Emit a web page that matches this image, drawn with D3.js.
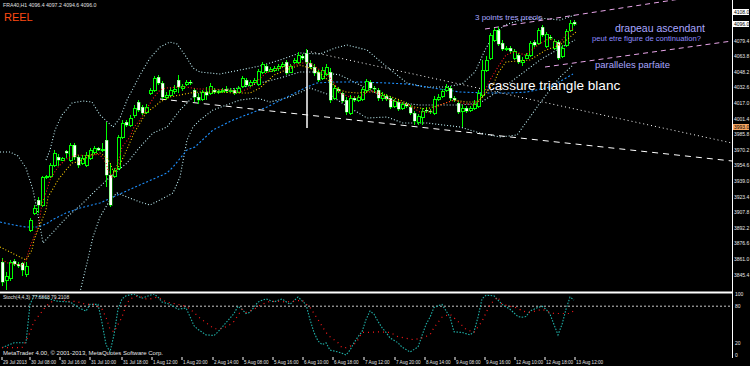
<!DOCTYPE html>
<html><head><meta charset="utf-8">
<script src="https://cdn.jsdelivr.net/npm/d3@7"></script>
<style>html,body{margin:0;padding:0;background:#000;overflow:hidden}svg{display:block}</style>
</head><body><svg id="c" width="750" height="366"></svg>
<script>
// ---- candles (H1 bars, index 0..143) ----
const opens=[3858,3840,3842,3859,3856,3857,3846,3890,3907,3920,3915,3943,3944,3955,3963,3960,3969,3960,3975,3963,3957,3955,3962,3968,3972,3970,3980,3945,3944,3952,3983,3998,3995,4005,4018,4013,4008,4027,4030,4043,4037,4023,4025,4029,4040,4032,4036,4038,4030,4023,4021,4028,4027,4030,4028,4029,4031,4029,4030,4028,4034,4040,4035,4038,4036,4048,4054,4049,4050,4052,4054,4058,4048,4058,4058,4064,4067,4057,4053,4048,4042,4046,4048,4022,4031,4027,4020,4007,4022,4020,4021,4030,4038,4032,4030,4022,4024,4022,4014,4018,4012,4016,4013,4007,3998,4003,4010,4009,4007,4021,4024,4030,4032,4022,4017,4009,4012,4010,4012,4014,4025,4050,4062,4080,4090,4077,4071,4072,4062,4065,4058,4062,4065,4078,4077,4093,4074,4083,4072,4078,4064,4075,4090,4098];
const highs=[3862,3848,3860,3861,3858,3858,3858,3902,3915,3923,3944,3945,3957,3970,3966,3963,3970,3977,3977,3965,3965,3968,3972,3974,3973,3977,3998,3957,3952,3985,4000,4000,4005,4015,4020,4015,4016,4032,4044,4045,4039,4028,4033,4035,4045,4036,4040,4040,4032,4026,4030,4033,4037,4032,4031,4032,4034,4032,4032,4034,4044,4042,4040,4042,4051,4058,4056,4053,4054,4056,4058,4060,4056,4062,4068,4066,4071,4060,4056,4050,4053,4056,4052,4035,4033,4028,4023,4025,4024,4025,4033,4041,4040,4034,4032,4028,4026,4024,4021,4020,4018,4018,4015,4009,4006,4012,4013,4011,4024,4026,4031,4036,4034,4024,4019,4015,4014,4014,4020,4030,4060,4064,4087,4092,4093,4080,4074,4074,4071,4067,4063,4067,4079,4080,4092,4095,4088,4085,4081,4080,4075,4091,4100,4100];
const lows=[3834,3830,3839,3854,3852,3844,3843,3888,3905,3907,3913,3941,3942,3953,3954,3959,3962,3958,3960,3952,3955,3953,3960,3966,3969,3968,3933,3913,3942,3950,3981,3993,3993,4002,4008,4005,4006,4025,4028,4035,4021,4020,4023,4026,4027,4029,4034,4035,4018,4016,4019,4020,4025,4026,4026,4027,4027,4028,4025,4027,4032,4033,4033,4036,4034,4046,4047,4048,4048,4049,4052,4045,4047,4056,4056,4060,4056,4051,4044,4038,4040,4044,4017,4020,4027,4017,4005,4005,4018,4018,4019,4027,4030,4028,4019,4019,4019,4011,4012,4009,4010,4012,4005,3995,3995,3995,4007,4006,4005,4019,4022,4028,4019,4018,4006,3993,4007,4008,4010,4012,4022,4048,4060,4078,4074,4069,4069,4067,4060,4056,4054,4061,4063,4073,4075,4083,4072,4080,4070,4060,4062,4073,4088,4094];
const closes=[3838,3844,3858,3856,3854,3850,3854,3900,3912,3915,3943,3944,3955,3967,3960,3962,3967,3975,3963,3955,3962,3965,3970,3972,3970,3971,3945,3915,3950,3983,3997,3995,4002,4012,4010,4007,4013,4030,4042,4037,4023,4025,4030,4031,4033,4034,4038,4037,4023,4020,4028,4025,4034,4028,4029,4030,4029,4030,4027,4032,4042,4035,4038,4040,4049,4056,4049,4051,4052,4054,4056,4047,4054,4060,4065,4062,4058,4053,4047,4040,4050,4053,4020,4032,4029,4019,4008,4022,4020,4023,4031,4039,4032,4031,4022,4025,4021,4013,4019,4011,4016,4014,4007,3999,4004,4009,4009,4008,4021,4023,4029,4033,4022,4020,4008,4012,4009,4012,4016,4027,4050,4060,4085,4090,4076,4071,4072,4069,4069,4058,4060,4065,4077,4075,4090,4085,4086,4082,4079,4062,4072,4089,4097,4096];

// ---- indicator lines: [bar index, price] ----
const maFast=[[0,3860],[1.5,3857],[5,3855],[6,3860],[7,3873],[8,3883],[9,3893],[9.5,3903],[10,3917],[11,3927],[12,3940],[13,3947],[14,3953],[15,3957],[16.5,3962],[19,3965],[22,3964],[24,3966],[25,3963],[26,3957],[26.5,3950],[27.5,3943],[28,3948],[29,3957],[30,3973],[32,3983],[33,3993],[34.5,4000],[36,4010],[38,4023],[39.5,4030],[41,4032],[44,4033],[46,4033],[49,4031],[52,4031],[57,4030],[59.5,4028],[62,4032],[66,4047],[69.5,4052],[73,4055],[74.5,4057],[77,4057],[79.5,4050],[81,4047],[83,4037],[84.5,4027],[87,4023],[89.5,4023],[92,4030],[94.5,4025],[97,4020],[99.5,4018],[102,4014],[104.5,4008],[107,4008],[109.5,4015],[113,4020],[115,4017],[118,4015],[120,4023],[122,4040],[124,4053],[126,4065],[128,4068],[131,4065],[134,4075],[137,4082],[139,4075],[141,4085],[143,4092]];
const maMid=[[-0.5,3873],[2,3868],[4.5,3863],[6,3860],[7.5,3870],[8,3880],[9,3890],[10,3900],[11,3910],[11.5,3923],[13,3933],[14,3940],[16,3950],[17.5,3957],[19,3958],[21,3962],[22,3965],[24.5,3967],[26,3963],[27,3957],[28,3947],[29,3952],[30,3960],[31.5,3973],[33,3987],[34.5,3997],[36,4007],[38,4013],[39.5,4018],[42,4023],[44.5,4025],[47,4027],[49.5,4028],[54.5,4028],[58,4027],[62,4027],[64.5,4032],[68,4045],[71,4050],[74.5,4055],[77,4052],[79.5,4047],[82,4038],[84.5,4030],[86,4028],[89,4027],[91,4028],[94,4028],[96,4025],[99.5,4020],[103,4013],[106,4011],[109.5,4015],[113,4020],[116,4018],[119,4018],[121,4027],[123,4037],[124,4047],[126,4058],[132,4060],[136,4070],[139.5,4075],[142,4083],[143.5,4088]];
const maSlow=[[-0.5,3898],[3,3895],[6,3893],[9,3893],[11,3896],[13,3901],[16,3907],[19.5,3912],[24.5,3917],[32.75,3932],[41.25,3947],[42.75,3953],[46.25,3970],[48.25,3973],[52.75,3990],[57.75,4000],[66.25,4013],[71.25,4023],[76.25,4033],[78.75,4037],[82.75,4038],[89.5,4038],[96.25,4037],[101.25,4036],[107.75,4032],[114.5,4028],[121.25,4027],[127,4027],[131.25,4028],[137,4033],[142.75,4046]];
const bandUpper=[[11,3960],[12,3970],[13.25,3990],[15,4005],[17.5,4017],[20.25,4019],[22.5,4018],[24.5,4005],[27.75,3993],[29.5,4002],[31.25,4020],[34.5,4045],[37,4062],[39.5,4073],[42,4078],[43.75,4076],[45.75,4065],[47.75,4052],[49.5,4048],[54.5,4046],[59.5,4050],[64.5,4054],[69.5,4060],[74.5,4067],[79.5,4066],[83.25,4072],[86.25,4075],[91.25,4070],[96.25,4053],[101.25,4037],[105.75,4033],[110.75,4033],[115,4036],[118.25,4048],[120.75,4070],[123.25,4087],[125.75,4095],[129.5,4100],[134.5,4102],[139.5,4100],[143.25,4105]];
const bandMiddle=[[-0.5,3968],[2,3968],[4,3964],[6,3952],[7.75,3930],[9,3905],[10.25,3877],[16.25,3903],[20.25,3917],[22.75,3927],[27,3943],[31.25,3957],[34.5,3973],[37.75,3987],[41.25,3993],[44.5,4010],[47.75,4023],[49.5,4027],[54.5,4030],[59.5,4032],[64.5,4037],[69.5,4042],[74.5,4048],[79.5,4048],[84.5,4045],[89.5,4035],[94.5,4025],[99.5,4017],[104.5,4015],[109.5,4015],[114.5,4015],[119.5,4017],[124.5,4030],[129.5,4045],[134.5,4060],[139.5,4072],[143.25,4080]];
const bandLower=[[18.25,3810],[19.5,3828],[21.25,3857],[22.75,3883],[24.5,3903],[27,3920],[28.75,3927],[31.25,3923],[34.5,3918],[37,3915],[39.5,3920],[42.75,3927],[44.5,3943],[46.25,3980],[47.75,3993],[49.5,4000],[52.75,4010],[59.5,4020],[63.75,4022],[67,4018],[72,4023],[77,4032],[82,4025],[85.75,4015],[91.25,4002],[96.25,4003],[100.25,3997],[106.25,3997],[114.5,3993],[119.5,3987],[124.5,3983],[128.75,3985],[132,4003],[134.5,4017],[137,4030],[139.5,4043],[142.75,4055]];

// ---- stochastic (4,4,3) ----
const stochK=[[0,12],[3,20],[6,20],[7,83],[8,97],[10,95],[14,88],[17,87],[19,78],[21,72],[22,83],[24,83],[25,53],[26,17],[27,5],[28,33],[29,75],[30,92],[31,97],[33,100],[35,93],[37,98],[38,100],[39,95],[40,87],[42,83],[44,75],[46,77],[47,63],[48,48],[49,42],[51,33],[53,32],[54,38],[56,53],[58,68],[59,80],[60,75],[61,68],[62,70],[64,87],[66,92],[68,87],[70,92],[72,83],[74,95],[76,83],[77,58],[78,37],[79,23],[80,17],[81,20],[82,8],[84,5],[85,3],[86,0],[87,8],[88,20],[89,30],[90,38],[91,58],[92,72],[93,67],[94,55],[95,45],[96,37],[97,28],[99,20],[100,13],[102,5],[104,13],[105,32],[106,50],[107,62],[108,78],[110,83],[112,62],[113,38],[115,37],[117,33],[118,38],[119,62],[120,92],[121,98],[123,97],[125,83],[127,75],[129,63],[130,62],[131,63],[132,72],[133,75],[134,78],[135,80],[136,75],[137,67],[138,50],[139,33],[140,50],[141,75],[142,95],[143,90]];
const stochD=[[0,12],[5,12],[6,23],[7,37],[8,55],[9,63],[11,80],[14,95],[16,88],[18,88],[19,87],[21,83],[23,83],[25,75],[26,62],[27,42],[28,38],[29,50],[30,62],[31,82],[32,92],[34,97],[36,92],[37,92],[39,95],[41,87],[44,83],[46,80],[48,70],[49,63],[50,58],[51,53],[53,43],[55,43],[57,50],[58,55],[60,75],[61,70],[63,75],[65,83],[67,88],[69,88],[71,87],[73,88],[75,90],[77,78],[79,58],[81,37],[82,30],[84,20],[85,12],[86,12],[88,17],[89,25],[90,37],[92,37],[94,38],[97,37],[99,30],[103,25],[105,28],[107,33],[108,45],[110,62],[112,67],[114,55],[116,42],[118,37],[120,55],[122,83],[124,95],[125,83],[129,77],[130,72],[132,70],[134,73],[135,75],[137,70],[138,68],[142,68],[143,73]];

// ---- drawings: [bar index, price] ----
const triangleUpper=[[76.25,4069],[182.5,3977]];
const triangleLower=[[39.5,4021],[182.5,3959]];
const triangleEdge=[[76.25,4070],[76.25,3992]];
const flagUpper=[[120.75,4091],[182.5,4129]];
const flagLower=[[135.75,4053],[182.5,4079]];

// ---- axis labels ----
const priceTicks=[4079.4,4063.8,4048.2,4032.6,4017.0,4001.4,3985.8,3970.2,3954.6,3939.0,3923.4,3907.8,3892.2,3876.6,3861.0,3845.4];
const stochTicks=[100,80,20,0];
const timeIdx=[0,7,14.5,22,30,37.5,45,52.75,60.25,67.75,75.25,82.75,90.5,98.25,105.75,113.25,120.75,128.25,135.75,143.25];
const timeLabels=["29 Jul 2013","30 Jul 08:00","30 Jul 16:00","31 Jul 10:00","31 Jul 18:00","1 Aug 12:00","1 Aug 20:00","2 Aug 14:00","5 Aug 08:00","5 Aug 16:00","6 Aug 10:00","6 Aug 18:00","7 Aug 12:00","7 Aug 20:00","8 Aug 14:00","9 Aug 08:00","9 Aug 16:00","12 Aug 10:00","12 Aug 18:00","13 Aug 12:00"];

const svg=d3.select("#c");
const FONT="'Liberation Sans', Arial, sans-serif";
svg.append("rect").attr("width",750).attr("height",366).attr("fill","#000");

const x=d3.scaleLinear().domain([0,143]).range([2,574]);
const y=d3.scaleLinear().domain([4120,3828]).range([0,292]);
const ys=d3.scaleLinear().domain([0,100]).range([355,294]);

const defs=svg.append("defs");
defs.append("clipPath").attr("id","cm").append("rect").attr("x",0).attr("y",0).attr("width",732).attr("height",291);
defs.append("clipPath").attr("id","cs").append("rect").attr("x",0).attr("y",294).attr("width",732).attr("height",64);

const main=svg.append("g").attr("clip-path","url(#cm)");
const sub=svg.append("g").attr("clip-path","url(#cs)");

const line=d3.line().x(d=>x(d[0])).y(d=>y(d[1]));
const lineS=d3.line().x(d=>x(d[0])).y(d=>ys(d[1]));

// bands & MAs
const dotted=(data,color,dash)=>main.append("path").attr("d",line(data)).attr("fill","none").attr("stroke",color).attr("stroke-width",1.1).attr("stroke-dasharray",dash||"1,2");
dotted(bandUpper,"#bfeff5");
dotted(bandMiddle,"#bfeff5");
dotted(bandLower,"#bfeff5");
dotted(maSlow,"#1e90ff","2,2");

// drawings
const seg=(d,color,dash,w)=>main.append("path").attr("d",line(d)).attr("fill","none").attr("stroke",color).attr("stroke-width",w||1).attr("stroke-dasharray",dash);
seg(triangleUpper,"#fff","1,3");
seg(triangleLower,"#fff","6,5");
seg(triangleEdge,"#fff",null,1.5);
seg(flagUpper,"#e9a6e9","5,4");
seg(flagLower,"#e9a6e9","5,4");

// candles
const idx=d3.range(opens.length);
const cg=main.append("g").attr("shape-rendering","crispEdges");
cg.selectAll("line.w").data(idx).join("line").attr("x1",i=>x(i)+0.5).attr("x2",i=>x(i)+0.5)
  .attr("y1",i=>y(highs[i])).attr("y2",i=>y(lows[i])).attr("stroke","#00ff00").attr("stroke-width",1);
cg.selectAll("rect.b").data(idx).join("rect")
  .attr("x",i=>x(i)-1).attr("width",3)
  .attr("y",i=>y(Math.max(opens[i],closes[i])))
  .attr("height",i=>Math.max(1,Math.abs(y(opens[i])-y(closes[i]))))
  .attr("fill",i=>closes[i]>=opens[i]?"#000":"#fff")
  .attr("stroke","#00ff00").attr("stroke-width",i=>closes[i]>=opens[i]?1:0.4);

dotted(maMid,"#ffd000");
dotted(maFast,"#ff1a1a");

// annotations
const txt=(s,px,py,size,color,weight)=>svg.append("text").attr("x",px).attr("y",py).attr("font-family",FONT).attr("font-size",size).attr("fill",color).attr("font-weight",weight||"normal").text(s);
txt("3 points tres precis",475,20,8,"#a9a6ff");
txt("drapeau ascendant",615,32,10.5,"#a9a6ff");
txt("peut etre figure de continuation?",592,41,7.6,"#8f8cff");
txt("paralleles parfaite",595,68,9.5,"#a9a6ff");
txt("cassure triangle blanc",488,90,13.6,"#ffffff");
txt("REEL",4,21,11,"#ff4a12");
txt("FRA40,H1  4096.4 4097.2 4094.6 4096.0",3,7,5.2,"#e0e0e0");

// separators & axes
svg.append("line").attr("x1",0).attr("x2",732).attr("y1",292.5).attr("y2",292.5).attr("stroke","#fff").attr("stroke-width",2);
svg.append("line").attr("x1",732.5).attr("x2",732.5).attr("y1",0).attr("y2",358).attr("stroke","#fff").attr("stroke-width",1);

// price labels
svg.selectAll("text.p").data(priceTicks).join("text").attr("x",734).attr("y",d=>y(d)+2).attr("font-family",FONT).attr("font-size",5).attr("fill","#e8e8e8").text(d=>d.toFixed(1));
// current price boxes
const box=(price,bg,fg,label)=>{svg.append("rect").attr("x",733).attr("y",y(price)-3).attr("width",16).attr("height",6).attr("fill",bg);
 svg.append("text").attr("x",734).attr("y",y(price)+2).attr("font-family",FONT).attr("font-size",5).attr("fill",fg).text(label);};
box(4108,"#fff","#000","4108.0");
box(4096,"#fff","#000","4096.0");
box(3993,"#f4a460","#000","3993.0");

// stochastic window
sub.append("line").attr("x1",0).attr("x2",732).attr("y1",ys(80)).attr("y2",ys(80)).attr("stroke","#c8c8c8").attr("stroke-dasharray","2,2");
sub.append("path").attr("d",lineS(stochK)).attr("fill","none").attr("stroke","#20b2aa").attr("stroke-width",1.1).attr("stroke-dasharray","1.5,1.5");
sub.append("path").attr("d",lineS(stochD)).attr("fill","none").attr("stroke","#ff1a1a").attr("stroke-width",1.2).attr("stroke-dasharray","1,4");
txt("Stoch(4,4,3) 77.6868 79.2108",3,299,5,"#e0e0e0");
svg.selectAll("text.s").data(stochTicks).join("text").attr("x",735).attr("y",d=>ys(d)+2).attr("font-family",FONT).attr("font-size",5).attr("fill","#e8e8e8").text(d=>d);

// bottom
txt("MetaTrader 4.00, © 2001-2013, MetaQuotes Software Corp.",3,355,6,"#e6e6e6");
svg.selectAll("line.t").data(timeIdx).join("line").attr("x1",d=>x(d)).attr("x2",d=>x(d)).attr("y1",357).attr("y2",360).attr("stroke","#fff");
svg.selectAll("text.t").data(timeIdx).join("text").attr("x",d=>x(d)+1).attr("y",364).attr("font-family",FONT).attr("font-size",4.6).attr("fill","#e0e0e0").text((d,i)=>timeLabels[i]);
</script></body></html>
